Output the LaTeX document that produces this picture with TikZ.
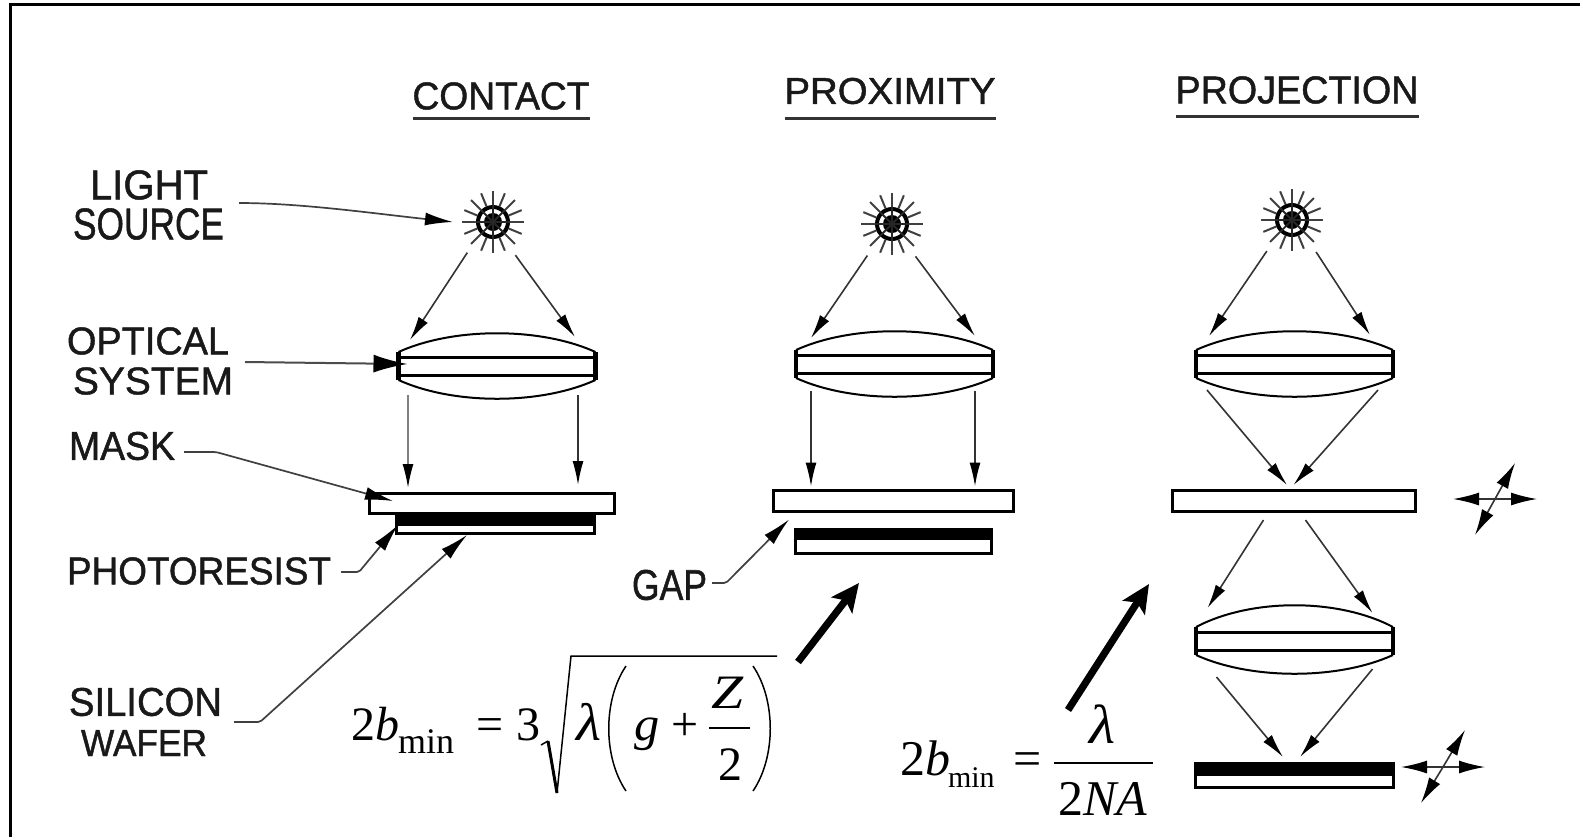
\documentclass[tikz,border=0pt]{standalone}
\usepackage{graphicx}
\usepackage{fontspec}
\setmainfont{Liberation Serif}
\newfontfamily\lblfont[FakeBold=1.2]{Liberation Sans}
\usetikzlibrary{arrows.meta,calc}
\newlength\pxu
\setlength\pxu{0.5pt}
\newcommand{\lab}[6]{\node[txt] (#1) at (#2,#3) {\resizebox{#4\pxu}{#5\pxu}{\lblfont #6}};}
\newcommand{\fm}[5]{\node[fml,font=\fontsize{#4}{#4}\selectfont] (#1) at (#2,#3) {#5};}
\newcommand{\lensbody}[4]{%
  \node[band] (#1) at (#2,#3) {};
  \draw[lensline] ([shift={(0,-5)}]#1.north west) .. controls ([shift={(55,-#4)}]#1.north west) and ([shift={(-55,-#4)}]#1.north east) .. ([shift={(0,-5)}]#1.north east);
  \draw[lensline] ([shift={(0,5)}]#1.south west) .. controls ([shift={(55,30)}]#1.south west) and ([shift={(-55,30)}]#1.south east) .. ([shift={(0,5)}]#1.south east);
  \draw[lensside] ([shift={(0,-5)}]#1.north west) -- ([shift={(0,5)}]#1.south west);
  \draw[lensside] ([shift={(0,-5)}]#1.north east) -- ([shift={(0,5)}]#1.south east);
}
\newcommand{\srcbody}[3]{%
  \node[srcnode] (#1) at (#2,#3) {};
  \fill[black] (#1.center) circle[radius=4.5pt];
  \foreach \a in {0,22.5,...,337.5}{
    \draw[srcray] ([shift={(\a:17)}]#1.center) -- ([shift={(\a:31)}]#1.center);
  }
  \foreach \a in {0,45,...,135}{
    \draw[srcspoke] ([shift={(\a:17)}]#1.center) -- ([shift={(\a+180:17)}]#1.center);
  }
}
\newcommand{\waferbody}[6]{%
  \node[plate,minimum width=0.5pt*#4,minimum height=0.5pt*#5] (#1) at (#2,#3) {};
  \fill[black] (#1.north west) rectangle ([shift={(0,#6)}]#1.north east);
}
\newcommand{\crossbody}[7]{%
  \coordinate (#1) at (#2,#3);
  \draw[crossray] (#1) -- ([shift={(#4,0)}]#1);
  \draw[crossray] (#1) -- ([shift={(-#4,0)}]#1);
  \draw[crossray] (#1) -- ([shift={(#5,-#6)}]#1);
  \draw[crossray] (#1) -- ([shift={(-#5,#7)}]#1);
}
\tikzset{
  txt/.style={inner sep=0pt,outer sep=0pt,text=black!90},
  fml/.style={inner sep=0pt,outer sep=0pt,anchor=base west,text=black},
  ray/.style={draw=black!80,line width=0.8pt,-{Latex[length=12pt,width=5.5pt,black]}},
  crossray/.style={draw=black!80,line width=0.8pt,-{Latex[length=13pt,width=6.5pt,black]}},
  leader/.style={draw=black!75,line width=0.85pt,-{Latex[length=14pt,width=6.5pt,black]},rounded corners=1pt},
  leaderbig/.style={draw=black!70,line width=1pt,-{Latex[length=17pt,width=9pt,black]}},
  bigarrow/.style={draw=black,line width=3.6pt,-{Stealth[length=14pt,width=13pt,inset=3pt]}},
  band/.style={draw=black,line width=1.5pt,minimum width=98.5pt,minimum height=9pt,inner sep=0pt,outer sep=0pt},
  lensline/.style={draw=black,line width=1pt},
  lensside/.style={draw=black,line width=2.2pt},
  plate/.style={draw=black,fill=white,line width=1.5pt,inner sep=0pt,outer sep=0pt},
  srcnode/.style={circle,draw=black,line width=2pt,minimum size=15pt,inner sep=0pt,outer sep=12.5pt},
  srcray/.style={draw=black!75,line width=1pt},
  srcspoke/.style={draw=black!85,line width=0.9pt},
  ul/.style={draw=black!80,line width=1.6pt},
  frameline/.style={draw=black,line width=1.5pt},
  thinm/.style={draw=black,line width=0.75pt},
  thickm/.style={draw=black,line width=1.5pt}
}
\begin{document}
\begin{tikzpicture}[x=0.5pt,y=-0.5pt]
\useasboundingbox (0,0) rectangle (1580,837);
\fill[white] (0,0) rectangle (1580,837);
\coordinate (fa) at (10.5,837);
\coordinate (fb) at (10.5,4.5);
\coordinate (fc) at (1580,4.5);
\draw[frameline] (fa) -- (fb) -- (fc);

% titles
\lab{t1}{501}{96}{177}{27}{CONTACT}
\lab{t2}{890}{91}{211}{26}{PROXIMITY}
\lab{t3}{1297}{90}{243}{27}{PROJECTION}
\draw[ul] ([shift={(0,9)}]t1.south west) -- ([shift={(0,9)}]t1.south east);
\draw[ul] ([shift={(0,14)}]t2.south west) -- ([shift={(0,14)}]t2.south east);
\draw[ul] ([shift={(0,13)}]t3.south west) -- ([shift={(0,13)}]t3.south east);

% side labels
\lab{l1}{149}{185}{118}{29}{LIGHT}
\lab{l2}{148.5}{224}{151}{31}{SOURCE}
\lab{l3}{148}{341}{162}{27}{OPTICAL}
\lab{l4}{153}{381}{160}{27}{SYSTEM}
\lab{l5}{122}{446}{106}{28}{MASK}
\lab{l6}{199}{571}{264}{27}{PHOTORESIST}
\lab{l7}{669.5}{585}{75}{30}{GAP}
\lab{l8}{145.5}{702}{153}{28}{SILICON}
\lab{l9}{144}{743}{126}{26}{WAFER}

% light sources
\srcbody{s1}{493}{222}
\srcbody{s2}{892}{224}
\srcbody{s3}{1292}{220}

% lenses
\lensbody{a1}{497}{366}{30}
\lensbody{a2}{894.5}{364}{30}
\lensbody{a3}{1294.5}{364}{30}
\lensbody{a4}{1294.5}{641}{34}

% masks
\node[plate,minimum width=122.5pt,minimum height=10pt] (m1) at (491.5,503) {};
\node[plate,minimum width=120pt,minimum height=10.5pt] (m2) at (893,501) {};
\node[plate,minimum width=121.5pt,minimum height=10.5pt] (m3) at (1293.5,500.5) {};

% wafers
\waferbody{w1}{495}{523}{198}{20}{13}
\waferbody{w2}{893}{541}{196}{24}{11}
\waferbody{w3}{1294}{775}{198}{24}{13}

% contact rays
\draw[ray] (s1.230) -- ([shift={(-87,-17)}]a1.north);
\draw[ray] (s1.304) -- ([shift={(78,-20)}]a1.north);
\draw[ray,draw=black!50] ([shift={(-89,20)}]a1.south) -- ([shift={(-83.5,-5)}]m1.north);
\draw[ray] ([shift={(81,20)}]a1.south) -- ([shift={(86.5,-8)}]m1.north);

% proximity rays
\draw[ray] (s2.232) -- ([shift={(-83.5,-17)}]a2.north);
\draw[ray] (s2.306) -- ([shift={(80.5,-19)}]a2.north);
\draw[ray] ([shift={(-83.5,18)}]a2.south) -- ([shift={(-82,-4)}]m2.north);
\draw[ray] ([shift={(80.5,18)}]a2.south) -- ([shift={(82,-4)}]m2.north);

% projection rays
\draw[ray] (s3.231) -- ([shift={(-85.5,-19)}]a3.north);
\draw[ray] (s3.307) -- ([shift={(75.5,-20)}]a3.north);
\draw[ray] ([shift={(-87.5,17)}]a3.south) -- ([shift={(-6.5,-5)}]m3.north);
\draw[ray] ([shift={(83.5,17)}]a3.south) -- ([shift={(0,-5)}]m3.north);
\draw[ray] ([shift={(-30,9)}]m3.south) -- ([shift={(-87,-24)}]a4.north);
\draw[ray] ([shift={(12,9)}]m3.south) -- ([shift={(78,-19)}]a4.north);
\draw[ray] ([shift={(-78,27)}]a4.south) -- ([shift={(-11,-6)}]w3.north);
\draw[ray] ([shift={(78,19)}]a4.south) -- ([shift={(6,-6)}]w3.north);

% crosses
\crossbody{c1}{1495}{499}{42}{20}{36}{36}
\crossbody{c2}{1443}{767}{42}{22}{37}{36}

% leaders
\draw[leader] ([shift={(15,-21)}]l2.east) .. controls (300,203) and (370,213) .. (s1.180);
\draw[leaderbig] ([shift={(12,-19)}]l4.east) -- ([shift={(9,-2)}]a1.west);
\draw[leader] ([shift={(9,6)}]l5.east) -- (216,452) -- ([shift={(24,8)}]m1.north west);
\draw[leader] ([shift={(10,1)}]l6.east) -- (359,572) -- ([shift={(2,-8)}]w1.south west);
\draw[leader] ([shift={(27,-21)}]l9.east) -- (260,722) -- ([shift={(-28,2)}]w1.south);
\draw[leader] ([shift={(5,-2)}]l7.east) -- (726,583) -- ([shift={(16,8)}]m2.south west);

% formula 1
\fm{f1}{351}{740}{24}{2\textit{b}}
\fm{f2}{398}{753}{18}{min}
\fm{f3}{476}{740}{24}{=}
\fm{f4}{516}{740}{24}{3}
\fm{f5}{576}{740}{24}{\scalebox{1.2}[1.1]{\textit{λ}}}
\fm{f6}{634}{740}{24}{\scalebox{1.05}[1]{\textit{g}}}
\fm{f7}{671}{740}{24}{+}
\fm{f8}{711}{708}{24}{\scalebox{1.2}[1]{\textit{Z}}}
\fm{f9}{718}{780}{24}{2}
\coordinate (r0) at (541,745);
\coordinate (r1) at (548,741);
\coordinate (r2) at (557,793);
\coordinate (r3) at (571,656);
\coordinate (r4) at (777,656);
\draw[thinm] (r0) -- (r1);
\draw[thickm] (r1) -- (r2);
\draw[thinm] (r2) -- (r3) -- (r4);
\coordinate (p1) at (626,666);
\coordinate (p2) at (626,791);
\coordinate (p3) at (753,666);
\coordinate (p4) at (753,791);
\draw[thinm] (p1) .. controls (603,700) and (603,757) .. (p2);
\draw[thinm] (p3) .. controls (776,700) and (776,757) .. (p4);
\coordinate (b1) at (709,728);
\coordinate (b2) at (750,728);
\draw[thinm] (b1) -- (b2);
\draw[bigarrow] ([shift={(21,6)}]r4) -- ([shift={(-34,30)}]w2.south);

% formula 2
\fm{g1}{900}{775}{25}{2\textit{b}}
\fm{g2}{948}{787}{15}{min}
\fm{g3}{1013}{775}{25}{=}
\fm{g4}{1089}{743}{25}{\scalebox{1.2}[1.1]{\textit{λ}}}
\fm{g5}{1058}{815}{25}{2\textit{NA}}
\coordinate (d1) at (1054,763);
\coordinate (d2) at (1153,763);
\draw[thinm] (d1) -- (d2);
\draw[bigarrow] ([shift={(14,-53)}]d1) -- ([shift={(-23,73)}]m3.south west);
\end{tikzpicture}
\end{document}
